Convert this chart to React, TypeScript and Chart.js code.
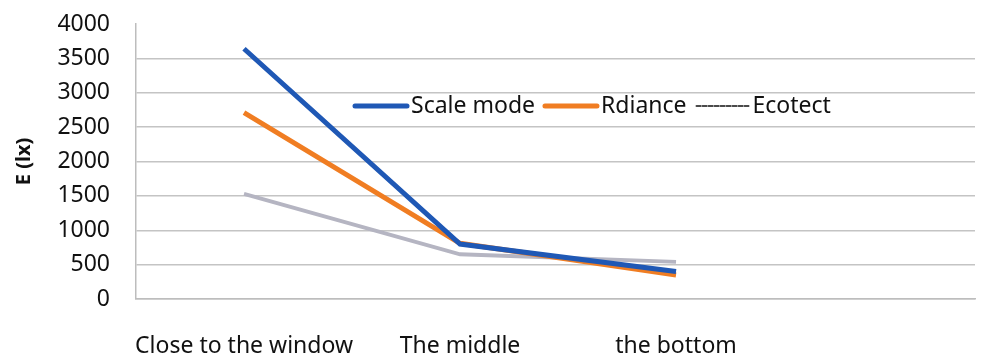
import React, { useEffect, useRef } from "react";
import { Chart, registerables } from "chart.js";

Chart.register(...registerables);

const categories = ["Close to the window", "The middle", "the bottom"];
const seriesNames = ["Scale mode", "Rdiance", "Ecotect"];
const scaleMode = [3640, 800, 400];
const radiance = [2710, 810, 350];
const ecotect = [1530, 650, 540];
const yTickValues = [0, 500, 1000, 1500, 2000, 2500, 3000, 3500, 4000];
const yTitle = "E (lx)";

const seriesColors = ["#1f58b5", "#f07d22", "#b5b5c2"];
const seriesWidths = [5, 5, 4];
const legendMarkers = [
  { color: "#1f58b5", width: 5, dash: [] as number[] },
  { color: "#f07d22", width: 5, dash: [] as number[] },
  { color: "#4a4a4a", width: 2, dash: [4, 2] },
];

const FONT = "'Noto Sans', sans-serif";

const insideLegend = {
  id: "insideLegend",
  afterDraw(chart: any) {
    const { ctx, chartArea } = chart;
    const x0 = chartArea.left + 219;
    const y = chartArea.top + 82;
    ctx.save();
    ctx.font = `23px ${FONT}`;
    ctx.textBaseline = "middle";
    ctx.textAlign = "left";
    let x = x0;
    chart.data.datasets.forEach((ds: any, i: number) => {
      const m = legendMarkers[i];
      ctx.beginPath();
      ctx.setLineDash(m.dash);
      ctx.strokeStyle = m.color;
      ctx.lineWidth = m.width;
      ctx.lineCap = "round";
      ctx.moveTo(x, y);
      ctx.lineTo(x + 52, y);
      ctx.stroke();
      ctx.setLineDash([]);
      x += 56;
      ctx.fillStyle = "#111";
      ctx.fillText(ds.label, x, y);
      x += ctx.measureText(ds.label).width + 10;
    });
    ctx.restore();
  },
};

export default function App() {
  const ref = useRef<HTMLCanvasElement | null>(null);
  useEffect(() => {
    if (!ref.current) return;
    const seriesData = [scaleMode, radiance, ecotect];
    const chart = new Chart(ref.current, {
      type: "line",
      data: {
        datasets: seriesData.map((vals, i) => ({
          label: seriesNames[i],
          data: vals.map((y, k) => ({ x: k, y })),
          borderColor: seriesColors[i],
          backgroundColor: seriesColors[i],
          borderWidth: seriesWidths[i],
          pointRadius: 0,
          tension: 0,
          fill: false,
        })),
      },
      options: {
        animation: false,
        responsive: false,
        maintainAspectRatio: false,
        layout: { padding: { top: 24, right: 12, bottom: 0, left: 0 } },
        plugins: {
          legend: { display: false },
          tooltip: { enabled: false },
        },
        scales: {
          x: {
            type: "linear",
            min: -0.5,
            max: 3.384,
            afterBuildTicks: (scale: any) => {
              scale.ticks = categories.map((_, i) => ({ value: i }));
            },
            afterFit: (scale: any) => {
              scale.height = 55;
            },
            grid: { display: false, drawTicks: false },
            border: { display: true, color: "#bdbdbd", width: 1.5 },
            ticks: {
              autoSkip: false,
              maxRotation: 0,
              padding: 34,
              color: "#111",
              font: { family: FONT, size: 23 },
              callback: (v: any) => categories[v] ?? "",
            },
          },
          y: {
            min: 0,
            max: 4000,
            afterBuildTicks: (scale: any) => {
              scale.ticks = yTickValues.map((v) => ({ value: v }));
            },
            afterFit: (scale: any) => {
              scale.width = 136;
            },
            grid: {
              drawTicks: true,
              tickLength: 26,
              tickColor: "rgba(0,0,0,0)",
              lineWidth: 1.5,
              color: (c: any) => (c.tick && c.tick.value === 4000 ? "rgba(0,0,0,0)" : "#c4c4c4"),
            },
            border: { display: true, color: "#bdbdbd", width: 1.5 },
            ticks: {
              padding: 0,
              color: "#111",
              font: { family: FONT, size: 23 },
              callback: (v: any) => String(v),
            },
            title: {
              display: true,
              text: yTitle,
              color: "#111",
              padding: { top: 12, bottom: 0 },
              font: { family: FONT, size: 20, weight: "bold" },
            },
          },
        },
      },
      plugins: [insideLegend],
    });
    return () => chart.destroy();
  }, []);
  return (
    <div style={{ position: "fixed", left: 0, top: 0, width: 987, height: 354, background: "#fff" }}>
      <canvas ref={ref} width={987} height={354} style={{ display: "block", width: 987, height: 354 }} />
    </div>
  );
}
